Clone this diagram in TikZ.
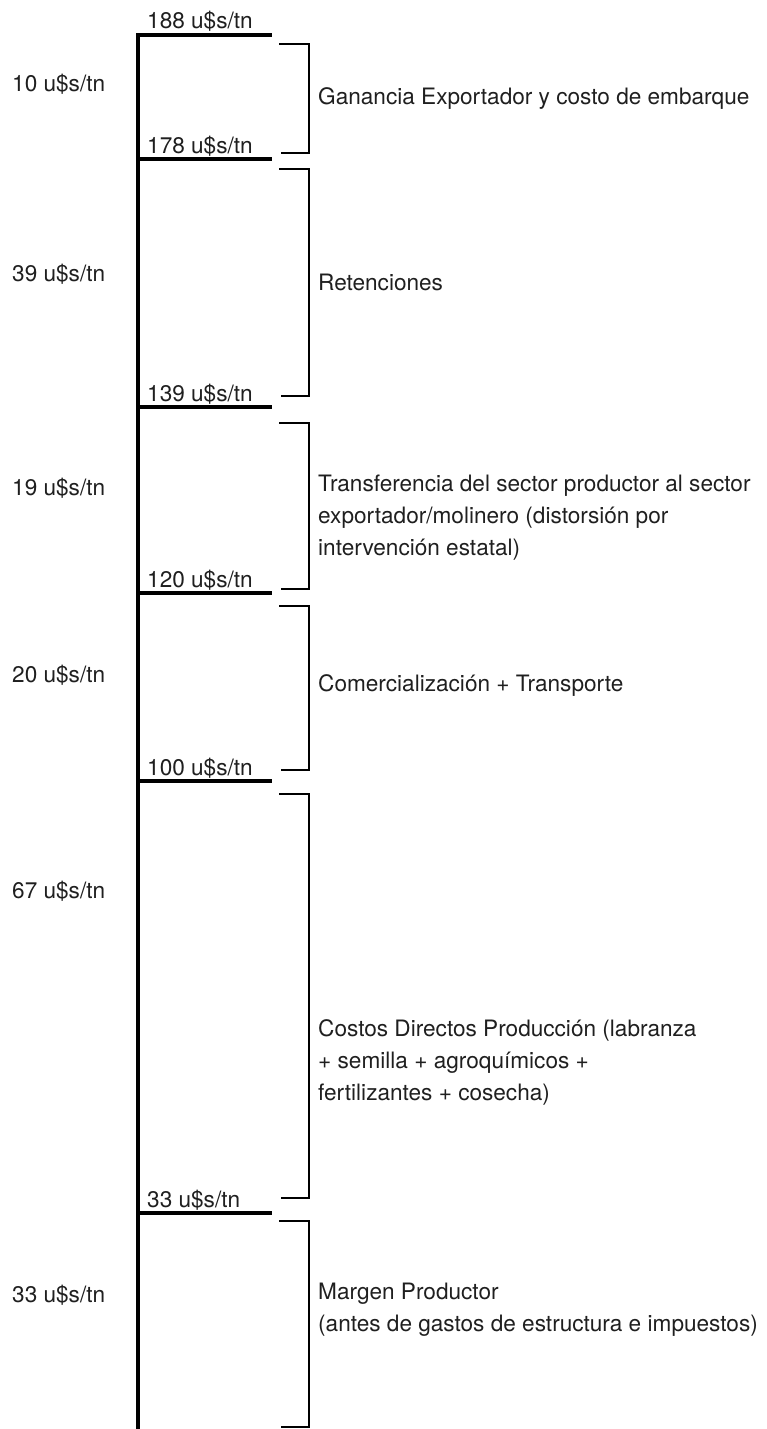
\documentclass[tikz,border=0pt]{standalone}
\usepackage{fontspec}
\setmainfont{TeX Gyre Heros}
\usetikzlibrary{positioning}
\tikzset{
  axis/.style={line width=4pt,line cap=rect},
  level/.style={line width=3.5pt},
  bracket/.style={line width=1.8pt},
  price/.style={anchor=base west,inner sep=0pt,text=black!88,font=\fontsize{22.6}{32}\selectfont},
  share/.style={anchor=base west,inner sep=0pt,text=black!88,font=\fontsize{22.6}{32}\selectfont},
  concept/.style={anchor=west,align=left,inner sep=0pt,text=black!88,font=\fontsize{22.6}{32}\selectfont}
}

\begin{document}
\begin{tikzpicture}[x=1pt,y=-1pt]
  \useasboundingbox (0,0) rectangle (767,1429);

  % eje de precios
  \coordinate (top) at (138,35);
  \coordinate (bottom) at (138,1431);
  \draw [axis] (top) -- (bottom);

  % niveles de precio
  \foreach \name/\y/\txt in {p188/35/188, p178/159/178, p139/407/139,
                             p120/593/120, p100/781/100, p33/1213/33}
  {
    \coordinate (\name) at (138,\y);
    \coordinate (\name end) at (272,\y);
    \draw [level] (\name) -- (\name end);
    \node [price] (\name lbl) at (147,\y-6) {\txt{} u\$s/tn};
  }

  % diferencias
  \node [share] (d10) at (12,92) {10 u\$s/tn};
  \node [share] (d39) at (12,281) {39 u\$s/tn};
  \node [share] (d19) at (12,495) {19 u\$s/tn};
  \node [share] (d20) at (12,682) {20 u\$s/tn};
  \node [share] (d67) at (12,898) {67 u\$s/tn};
  \node [share] (d33) at (12,1302) {33 u\$s/tn};

  % llaves
  \foreach \a/\b in {44/153, 169/396, 423/589, 606/770, 794/1198, 1221/1427}
  {
    \draw [bracket] (279,\a) -- (309,\a) -- (309,\b) -- (281,\b);
  }

  % conceptos
  \node [concept] (c1) at (318,99) {Ganancia Exportador y costo de embarque};
  \node [concept] (c2) at (318,282) {Retenciones};
  \node [concept] (c3) at (318,518) {Transferencia del sector productor al sector\\
    exportador/molinero (distorsión por\\intervención estatal)};
  \node [concept] (c4) at (318,686) {Comercialización + Transporte};
  \node [concept] (c5) at (318,1062) {Costos Directos Producción (labranza\\
    + semilla + agroquímicos +\\fertilizantes + cosecha)};
  \node [concept] (c6) at (318,1310) {Margen Productor\\
    (antes de gastos de estructura e impuestos)};
\end{tikzpicture}
\end{document}
